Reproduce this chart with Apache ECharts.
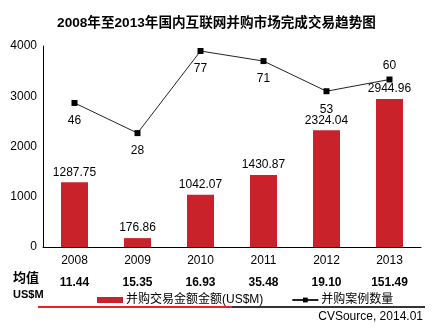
<!DOCTYPE html>
<html><head><meta charset="utf-8">
<script src="https://cdn.jsdelivr.net/npm/echarts@6/dist/echarts.min.js"></script>
<style>html,body{margin:0;padding:0;background:#fff}#c{width:433px;height:332px}</style>
</head><body><div id="c"></div>
<script>
const categories = ['2008','2009','2010','2011','2012','2013'];
const dealAmount = [1287.75, 176.86, 1042.07, 1430.87, 2324.04, 2944.96];
const dealCount = [46, 28, 77, 71, 53, 60];
const averages = ['11.44','15.35','16.93','35.48','19.10','151.49'];
const yTicks = [0, 1000, 2000, 3000, 4000];
const title = '2008年至2013年国内互联网并购市场完成交易趋势图';
const barName = '并购交易金额金额(US$M)';
const lineName = '并购案例数量';
const source = 'CVSource, 2014.01';

const FONT = '"Liberation Sans", Arial, "Noto Sans CJK SC", sans-serif';
const chart = echarts.init(document.getElementById('c'), null, {renderer: 'canvas'});
const lineData = dealCount.map((v, i) => ({
  value: v,
  label: i === dealCount.length - 1 ? {position: 'top', distance: 5} : {position: 'bottom', distance: 9}
}));
chart.setOption({
  animation: false,
  textStyle: {fontFamily: FONT},
  title: {text: title, left: 'center', top: 11,
    textStyle: {fontSize: 13.6, fontWeight: 'bold', color: '#000', fontFamily: FONT}},
  grid: {left: 43, right: 12, top: 46, bottom: 85},
  legend: {
    left: 92, top: 289, itemGap: 28, itemWidth: 26, itemHeight: 6,
    textStyle: {fontSize: 12, color: '#000', fontFamily: FONT, padding: [0,0,0,-2]},
    data: [{name: barName, icon: 'rect'}, {name: lineName}]
  },
  xAxis: [{
    type: 'category', data: categories,
    axisLine: {lineStyle: {color: '#000', width: 1}},
    axisTick: {show: false},
    axisLabel: {color: '#000', fontSize: 12, margin: 8}
  }, {
    type: 'category', data: averages, position: 'bottom', offset: 22,
    axisLine: {show: false}, axisTick: {show: false},
    axisLabel: {color: '#000', fontSize: 12, fontWeight: 'bold', margin: 8}
  }],
  yAxis: [{
    type: 'value', min: 0, max: 4000, interval: 1000,
    axisLine: {show: true, lineStyle: {color: '#000'}},
    axisTick: {show: false}, splitLine: {show: false},
    axisLabel: {color: '#000', fontSize: 12, margin: 6,
      formatter: v => yTicks.includes(v) ? String(v) : ''}
  }, {
    type: 'value', min: -40, max: 80, show: false, splitLine: {show: false}
  }],
  series: [{
    name: barName, type: 'bar', data: dealAmount, barWidth: 27,
    itemStyle: {color: '#C9222B'},
    label: {show: true, position: 'top', distance: 4, color: '#000', fontSize: 12,
      formatter: p => p.value.toFixed(2)}
  }, {
    name: lineName, type: 'line', yAxisIndex: 1, data: lineData,
    symbol: 'rect', symbolSize: 6,
    itemStyle: {color: '#000'}, lineStyle: {color: '#222', width: 1},
    label: {show: true, color: '#000', fontSize: 12}
  }],
  graphic: [
    {type: 'text', left: 13, top: 272, style: {text: '均值', fill: '#000', font: 'bold 13px ' + FONT}},
    {type: 'text', left: 13, top: 289, style: {text: 'US$M', fill: '#000', font: 'bold 11px ' + FONT}},
    {type: 'line', shape: {x1: 38, y1: 307, x2: 232, y2: 307}, style: {stroke: '#E8222B', lineWidth: 2}},
    {type: 'line', shape: {x1: 232, y1: 307, x2: 425, y2: 307}, style: {stroke: '#333', lineWidth: 2}},
    {type: 'text', right: 10, top: 311, style: {text: source, fill: '#000', font: '12px ' + FONT}}
  ]
});
</script></body></html>
